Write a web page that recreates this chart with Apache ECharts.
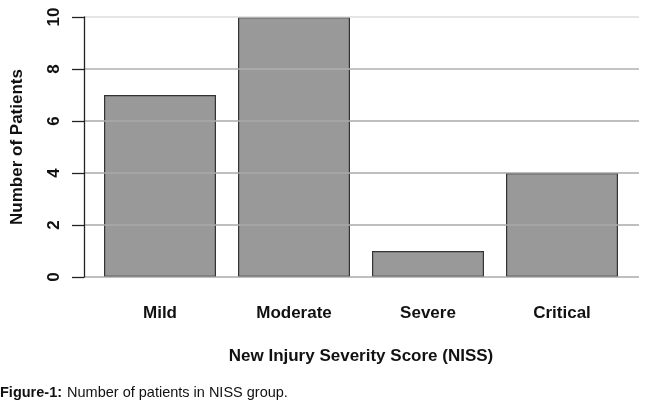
<!DOCTYPE html>
<html>
<head>
<meta charset="utf-8">
<script src="https://cdn.jsdelivr.net/npm/echarts@6/dist/echarts.min.js"></script>
<style>
  html, body { margin: 0; padding: 0; background: #fff; }
  #chart { width: 650px; height: 407px; }
</style>
</head>
<body>
<div id="chart"></div>
<script>
// 数据
var categories = ['Mild', 'Moderate', 'Severe', 'Critical'];
var patients = [7, 10, 1, 4];
var yMin = 0, yMax = 10, yStep = 2;

var chart = echarts.init(document.getElementById('chart'), null, { renderer: 'canvas' });

var font = 'Liberation Sans, Arial, Helvetica, sans-serif';

var option = {
  backgroundColor: '#ffffff',
  animation: false,
  title: {
    left: 0,
    top: 384,
    padding: 0,
    text: '{b|Figure-1:} {r|Number of patients in NISS group.}',
    textStyle: {
      rich: {
        b: { fontFamily: font, fontWeight: 'bold', fontSize: 14.5, color: '#111' },
        r: { fontFamily: font, fontWeight: 'normal', fontSize: 14.5, color: '#111' }
      }
    }
  },
  grid: [
    // 坐标轴 + 网格线（宽一点）
    { left: 84, top: 17, width: 555, height: 260 },
    // 柱子
    { left: 93, top: 17, width: 536, height: 260 }
  ],
  xAxis: [
    { gridIndex: 0, type: 'value', show: false, min: 0, max: 1 },
    {
      gridIndex: 1,
      type: 'category',
      data: categories,
      axisLine: { show: false },
      axisTick: { show: false },
      axisLabel: {
        margin: 28,
        color: '#111',
        fontFamily: font,
        fontWeight: 'bold',
        fontSize: 17
      },
      name: 'New Injury Severity Score (NISS)',
      nameLocation: 'middle',
      nameGap: 71,
      nameTextStyle: {
        color: '#111',
        fontFamily: font,
        fontWeight: 'bold',
        fontSize: 17
      }
    }
  ],
  yAxis: [
    {
      gridIndex: 0,
      type: 'value',
      min: yMin,
      max: yMax,
      interval: yStep,
      z: 5,
      axisLine: { show: true, lineStyle: { color: '#222', width: 1.3 } },
      axisTick: { show: true, length: 12, lineStyle: { color: '#222', width: 1.3 } },
      axisLabel: {
        rotate: 90,
        margin: 21,
        color: '#111',
        fontFamily: font,
        fontWeight: 'bold',
        fontSize: 17
      },
      splitLine: {
        show: true,
        lineStyle: {
          color: ['#aaaaaa', '#aaaaaa', '#aaaaaa', '#aaaaaa', '#b0b0b0', '#dddddd'],
          width: 1.5
        }
      },
      name: 'Number of Patients',
      nameLocation: 'middle',
      nameGap: 58,
      nameTextStyle: {
        color: '#111',
        fontFamily: font,
        fontWeight: 'bold',
        fontSize: 17
      }
    },
    { gridIndex: 1, type: 'value', min: yMin, max: yMax, show: false }
  ],
  series: [{
    type: 'bar',
    xAxisIndex: 1,
    yAxisIndex: 1,
    data: patients,
    barWidth: 112,
    itemStyle: {
      color: '#999999',
      borderColor: '#333333',
      borderWidth: 1.2
    }
  }]
};

chart.setOption(option);
</script>
</body>
</html>
